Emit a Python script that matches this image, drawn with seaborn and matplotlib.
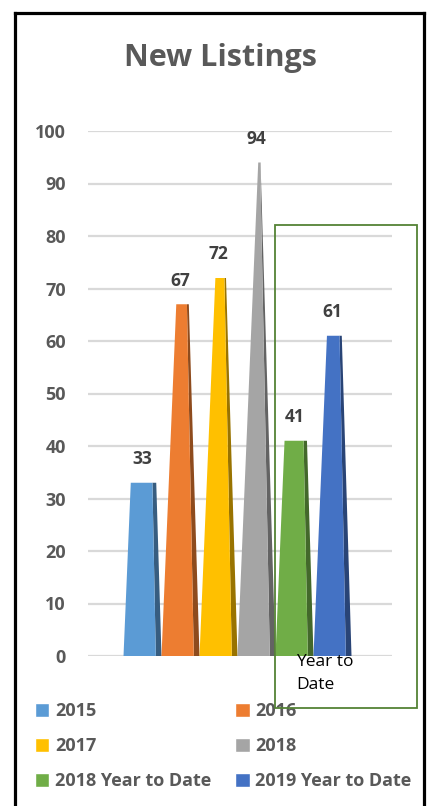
import matplotlib
matplotlib.use("Agg")
import matplotlib.pyplot as plt
import matplotlib.colors as mcolors
from matplotlib.patches import Rectangle
from matplotlib.lines import Line2D
import seaborn as sns
import pandas as pd

# ---- data ----
period = ["Year to Date"]
series = ["2015", "2016", "2017", "2018", "2018 Year to Date", "2019 Year to Date"]
listings = [33, 67, 72, 94, 41, 61]
colors = ["#5B9BD5", "#ED7D31", "#FFC000", "#A5A5A5", "#70AD47", "#4472C4"]
y_ticks = [0, 10, 20, 30, 40, 50, 60, 70, 80, 90, 100]

df = pd.DataFrame({"period": period * len(series), "series": series, "listings": listings})

sns.set_theme(style="white")
plt.rcParams["font.family"] = ["Open Sans", "DejaVu Sans"]

W, H = 430, 806
fig = plt.figure(figsize=(W / 100, H / 100), dpi=100)
ax = fig.add_axes([88 / W, 1 - 656 / H, 304 / W, 525 / H])

sns.barplot(data=df, x="period", y="listings", hue="series", hue_order=series,
            palette=colors, saturation=1, width=0.75, gap=0, ax=ax, legend=True)

handles, labels = ax.get_legend_handles_labels()
ax.get_legend().remove()

ymax = 100
ax.set_ylim(0, ymax)
ax.set_xlim(-0.4918, 0.5082)

# Turn each bar into a truncated pyramid that would peak at the axis maximum
bars = [p for p in ax.patches if isinstance(p, Rectangle) and p.get_height() > 0]
for bar in bars:
    x0 = bar.get_x()
    w = bar.get_width()
    h = bar.get_height()
    fc = bar.get_facecolor()
    bar.set_visible(False)
    x1 = x0 + w
    apex = x0 + 0.58 * w
    xr_front = x1 - 0.15 * w
    t = h / ymax
    lerp = lambda a, b: a + (b - a) * t
    dark = tuple(c * 0.6 for c in mcolors.to_rgb(fc))
    # side face
    ax.fill([xr_front, x1, lerp(x1, apex), lerp(xr_front, apex)], [0, 0, h, h],
            color=dark, lw=0, zorder=3)
    # front face
    ax.fill([x0, xr_front, lerp(xr_front, apex), lerp(x0, apex)], [0, 0, h, h],
            color=fc, lw=0, zorder=4)
    ax.annotate(f"{h:.0f}", (x0 + w / 2, h), xytext=(0, 17), textcoords="offset points",
                ha="center", va="center", fontsize=12.5, fontweight="bold", color="#404040",
                zorder=6)

# axes styling
sns.despine(ax=ax, left=True, bottom=True, top=True, right=True)
ax.set_yticks(y_ticks)
ax.set_yticklabels([str(v) for v in y_ticks], fontweight="bold", fontsize=13,
                   color="#595959")
ax.yaxis.grid(True, color="#D9D9D9", lw=1.6)
ax.set_axisbelow(True)
ax.tick_params(axis="y", length=0, pad=16)
ax.set_xticks([])
ax.set_xlabel("")
ax.set_ylabel("")

# category label
fig.text(296 / W, 1 - 654 / H, "Year to\nDate", ha="left", va="top", fontsize=12.5,
         color="black", linespacing=1.55)

# title
fig.text(220 / W, 1 - 58 / H, "New Listings", ha="center", va="center", fontsize=22,
         fontweight="bold", color="#595959")

# outer frame
frame_kw = dict(color="black", lw=2.3, transform=fig.transFigure, solid_capstyle="projecting")
fig.add_artist(Line2D([14.5 / W, 14.5 / W], [1 - 12.5 / H, -0.01], **frame_kw))
fig.add_artist(Line2D([424 / W, 424 / W], [1 - 12.5 / H, -0.01], **frame_kw))
fig.add_artist(Line2D([14.5 / W, 424 / W], [1 - 12.5 / H, 1 - 12.5 / H], **frame_kw))

# highlight box around the year-to-date bars
fig.add_artist(Rectangle((275 / W, 1 - 708 / H), (417 - 275) / W, (708 - 225) / H,
                         transform=fig.transFigure, fill=False, ec="#548235", lw=1.3,
                         zorder=10))

# legend laid out row by row in two columns
order = [0, 2, 4, 1, 3, 5]
leg = fig.legend([handles[i] for i in order], [labels[i] for i in order], ncol=2,
                 loc="upper left", bbox_to_anchor=(35 / W, 1 - 702 / H), frameon=False,
                 handlelength=0.8, handleheight=0.8, handletextpad=0.3, columnspacing=1.35,
                 labelspacing=0.95, borderaxespad=0, borderpad=0,
                 prop={"weight": "bold", "size": 13})
for txt in leg.get_texts():
    txt.set_color("#595959")

fig.savefig("out.png", dpi=100)
